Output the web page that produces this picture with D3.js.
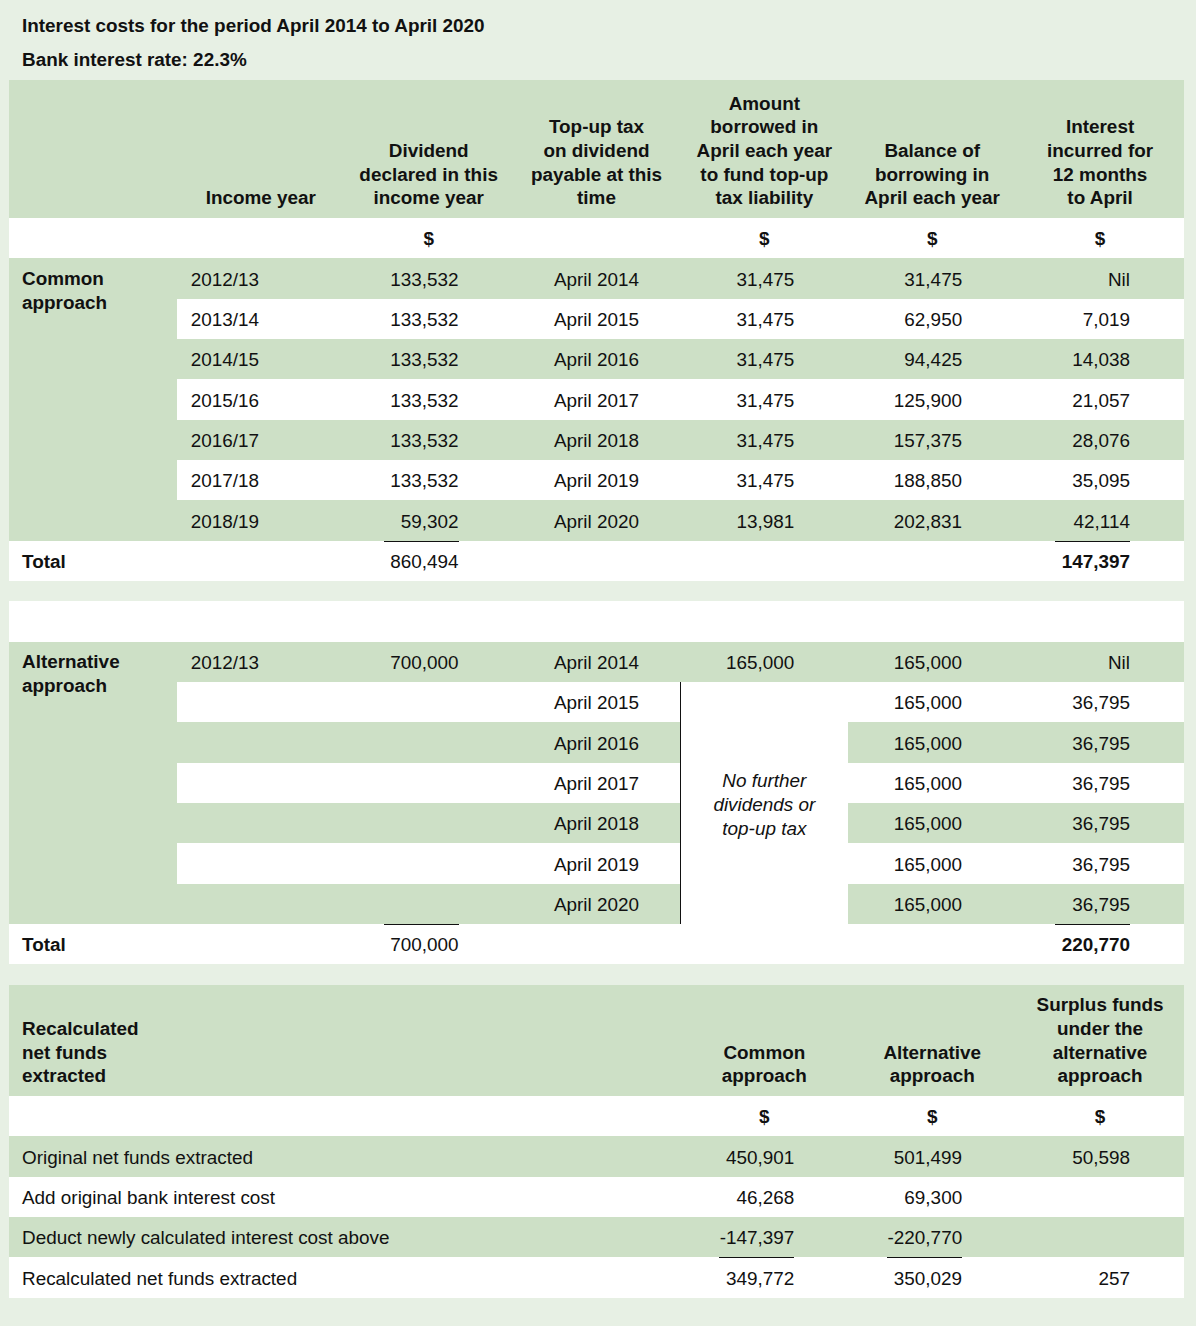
<!DOCTYPE html>
<html>
<head>
<meta charset="utf-8">
<script src="https://cdn.jsdelivr.net/npm/d3@7"></script>
<style>
  body { margin: 0; background: #e7f0e4; }
  svg text { font-family: "Liberation Sans", Arial, sans-serif; fill: #111; }
  svg rect, svg line { shape-rendering: crispEdges; }
</style>
</head>
<body>
<svg id="chart" width="1196" height="1326"></svg>
<script>
// ---- data ----
const title = "Interest costs for the period April 2014 to April 2020";
const rateLabel = "Bank interest rate: 22.3%";

const headers1 = [
    [],
    ["Income year"],
    ["Dividend", "declared in this", "income year"],
    ["Top-up tax", "on dividend", "payable at this", "time"],
    ["Amount", "borrowed in", "April each year", "to fund top-up", "tax liability"],
    ["Balance of", "borrowing in", "April each year"],
    ["Interest", "incurred for", "12 months", "to April"]
];
const dollarCols1 = [2, 4, 5, 6];

const incomeYears = ["2012/13", "2013/14", "2014/15", "2015/16", "2016/17", "2017/18", "2018/19"];
const payableMonths = ["April 2014", "April 2015", "April 2016", "April 2017", "April 2018", "April 2019", "April 2020"];

const commonDividend = [133532, 133532, 133532, 133532, 133532, 133532, 59302];
const commonBorrowed = [31475, 31475, 31475, 31475, 31475, 31475, 13981];
const commonBalance = [31475, 62950, 94425, 125900, 157375, 188850, 202831];
const commonInterest = [null, 7019, 14038, 21057, 28076, 35095, 42114];
const commonTotalDividend = 860494;
const commonTotalInterest = 147397;

const altYear = "2012/13";
const altDividend = 700000;
const altBorrowed = 165000;
const altBalance = [165000, 165000, 165000, 165000, 165000, 165000, 165000];
const altInterest = [null, 36795, 36795, 36795, 36795, 36795, 36795];
const altTotalDividend = 700000;
const altTotalInterest = 220770;
const altNote = ["No further", "dividends or", "top-up tax"];

const headers3 = [
    ["Recalculated", "net funds", "extracted"],
    ["Common", "approach"],
    ["Alternative", "approach"],
    ["Surplus funds", "under the", "alternative", "approach"]
];
const recalcLabels = [
    "Original net funds extracted",
    "Add original bank interest cost",
    "Deduct newly calculated interest cost above",
    "Recalculated net funds extracted"
];
const recalcCommon = [450901, 46268, -147397, 349772];
const recalcAlt = [501499, 69300, -220770, 350029];
const recalcSurplus = [50598, null, null, 257];

// ---- layout ----
const svg = d3.select("#chart");
const GREEN = "#cde0c6", WHITE = "#ffffff";
const ROW = 40.33, GAP = 20.33, FS = 18.9, LINE = 23.6;
const left = 9, right = 1184;

const col = d3.scaleBand().domain(d3.range(7)).range([left, right]);
const bw = col.bandwidth();
const center = i => col(i) + bw / 2;
const valRight = i => col(i) + bw - 54;

const fmt = d3.formatLocale({ decimal: ".", thousands: ",", grouping: [3], currency: ["$", ""], minus: "-" }).format(",");
const val = v => v === null ? "Nil" : fmt(v);

function rect(x0, x1, y, h, fill) {
    const ya = Math.round(y), yb = Math.round(y + h);
    const xa = Math.round(x0), xb = Math.round(x1);
    svg.append("rect").attr("x", xa).attr("y", ya).attr("width", xb - xa).attr("height", yb - ya).attr("fill", fill);
}
function label(x, y, t, anchor, weight, style) {
    return svg.append("text")
        .attr("x", x).attr("y", y).attr("dy", "0.35em")
        .attr("text-anchor", anchor || "start")
        .attr("font-size", FS)
        .attr("font-weight", weight || "normal")
        .attr("font-style", style || "normal")
        .text(t);
}
function underline(i, y) {
    const yy = Math.round(y);
    svg.append("line")
        .attr("x1", valRight(i) - 75).attr("x2", valRight(i))
        .attr("y1", yy).attr("y2", yy)
        .attr("stroke", "#111").attr("stroke-width", 1);
}
// bottom-aligned multi-line header
function headerLines(lines, x, bottom, anchor) {
    lines.forEach((t, k) => label(x, bottom - (lines.length - 1 - k) * LINE, t, anchor, "bold"));
}

// titles
label(22, 25, title, "start", "bold");
label(22, 59, rateLabel, "start", "bold");

// ---- table 1: common approach ----
let y = 80;
const head1H = 138;
rect(left, right, y, head1H, GREEN);
headers1.forEach((lines, i) => headerLines(lines, center(i), y + head1H - 20.5, "middle"));
y += head1H;

rect(left, right, y, ROW, WHITE);
dollarCols1.forEach(i => label(center(i), y + ROW / 2, "$", "middle", "bold"));
y += ROW;

const body1 = y;
rect(left, col(1), body1, ROW * incomeYears.length, GREEN);
label(22, body1 + ROW / 2, "Common", "start", "bold");
label(22, body1 + ROW / 2 + 24, "approach", "start", "bold");
incomeYears.forEach((yr, r) => {
    const ry = body1 + r * ROW, cy = ry + ROW / 2 + 0.5;
    rect(col(1), right, ry, ROW, r % 2 === 0 ? GREEN : WHITE);
    label(col(1) + 14, cy, yr);
    label(valRight(2), cy, val(commonDividend[r]), "end");
    label(center(3), cy, payableMonths[r], "middle");
    label(valRight(4), cy, val(commonBorrowed[r]), "end");
    label(valRight(5), cy, val(commonBalance[r]), "end");
    label(valRight(6), cy, val(commonInterest[r]), "end");
});
y = body1 + ROW * incomeYears.length;

rect(left, right, y, ROW, WHITE);
label(22, y + ROW / 2 + 0.5, "Total", "start", "bold");
label(valRight(2), y + ROW / 2 + 0.5, fmt(commonTotalDividend), "end");
label(valRight(6), y + ROW / 2 + 0.5, fmt(commonTotalInterest), "end", "bold");
underline(2, y);
underline(6, y);
y += ROW + GAP;

// ---- table 2: alternative approach ----
rect(left, right, y, ROW, WHITE);
y += ROW;

const body2 = y;
rect(left, col(1), body2, ROW * altBalance.length, GREEN);
label(22, body2 + ROW / 2, "Alternative", "start", "bold");
label(22, body2 + ROW / 2 + 24, "approach", "start", "bold");
altBalance.forEach((b, r) => {
    const ry = body2 + r * ROW, cy = ry + ROW / 2 + 0.5;
    const fill = r % 2 === 0 ? GREEN : WHITE;
    if (r === 0) {
        rect(col(1), right, ry, ROW, GREEN);
        label(col(1) + 14, cy, altYear);
        label(valRight(2), cy, fmt(altDividend), "end");
        label(valRight(4), cy, fmt(altBorrowed), "end");
    } else {
        rect(col(1), col(4), ry, ROW, fill);
        rect(col(4), col(5), ry, ROW, WHITE);
        rect(col(5), right, ry, ROW, fill);
    }
    label(center(3), cy, payableMonths[r], "middle");
    label(valRight(5), cy, fmt(b), "end");
    label(valRight(6), cy, val(altInterest[r]), "end");
});
const noteTop = Math.round(body2 + ROW), noteBottom = Math.round(body2 + ROW * altBalance.length);
svg.append("line")
    .attr("x1", Math.round(col(4))).attr("x2", Math.round(col(4)))
    .attr("y1", noteTop).attr("y2", noteBottom)
    .attr("stroke", "#111").attr("stroke-width", 1);
const noteMid = (noteTop + noteBottom) / 2 + 1;
altNote.forEach((t, k) => label(center(4), noteMid + (k - 1) * 24, t, "middle", "normal", "italic"));
y = body2 + ROW * altBalance.length;

rect(left, right, y, ROW, WHITE);
label(22, y + ROW / 2 + 0.5, "Total", "start", "bold");
label(valRight(2), y + ROW / 2 + 0.5, fmt(altTotalDividend), "end");
label(valRight(6), y + ROW / 2 + 0.5, fmt(altTotalInterest), "end", "bold");
underline(2, y);
underline(6, y);
y += ROW + GAP;

// ---- table 3: recalculated net funds ----
const head3H = 111.5;
rect(left, right, y, head3H, GREEN);
headerLines(headers3[0], 22, y + head3H - 20.5, "start");
[4, 5, 6].forEach((c, k) => headerLines(headers3[k + 1], center(c), y + head3H - 20.5, "middle"));
y += head3H;

rect(left, right, y, ROW, WHITE);
[4, 5, 6].forEach(i => label(center(i), y + ROW / 2, "$", "middle", "bold"));
y += ROW;

recalcLabels.forEach((t, r) => {
    const ry = y + r * ROW, cy = ry + ROW / 2 + 0.5;
    rect(left, right, ry, ROW, r % 2 === 0 ? GREEN : WHITE);
    label(22, cy, t);
    label(valRight(4), cy, fmt(recalcCommon[r]), "end");
    label(valRight(5), cy, fmt(recalcAlt[r]), "end");
    if (recalcSurplus[r] !== null) label(valRight(6), cy, fmt(recalcSurplus[r]), "end");
    if (r === recalcLabels.length - 1) {
        underline(4, ry);
        underline(5, ry);
    }
});
</script>
</body>
</html>
